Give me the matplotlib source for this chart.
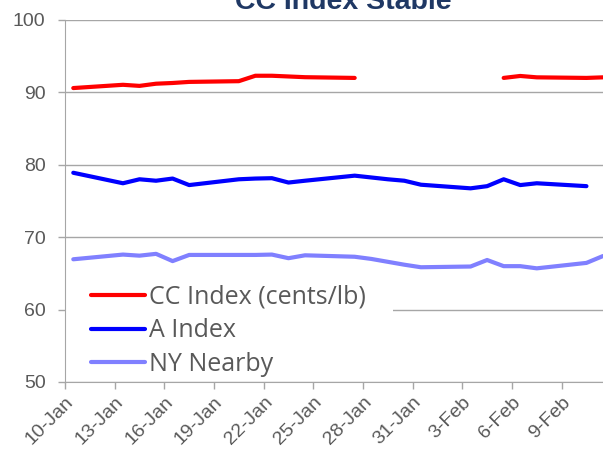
import numpy as np
import pandas as pd
import matplotlib
matplotlib.use("Agg")
import matplotlib.pyplot as plt
import matplotlib.transforms as mtrans
from matplotlib.patches import Rectangle

# trading days shown on the chart (2025)
fechas = pd.to_datetime([
    "2025-01-10", "2025-01-13", "2025-01-14", "2025-01-15", "2025-01-16", "2025-01-17",
    "2025-01-20", "2025-01-21", "2025-01-22", "2025-01-23", "2025-01-24",
    "2025-01-27", "2025-01-28", "2025-01-29", "2025-01-30", "2025-01-31",
    "2025-02-03", "2025-02-04", "2025-02-05", "2025-02-06", "2025-02-07",
    "2025-02-10", "2025-02-11",
])

nan = np.nan
cc_index = [90.6, 91.05, 90.9, 91.2, 91.3, 91.45,
            91.55, 92.3, 92.3, 92.2, 92.1,
            92.0, nan, nan, nan, nan,
            nan, nan, 92.0, 92.27, 92.08,
            92.0, 92.08]
a_index = [78.9, 77.45, 78.0, 77.8, 78.1, 77.2,
           78.0, 78.1, 78.15, 77.55, 77.8,
           78.5, 78.25, 78.0, 77.8, 77.25,
           76.75, 77.05, 78.0, 77.2, 77.45,
           77.05, nan]
ny_nearby = [66.95, 67.6, 67.45, 67.7, 66.7, 67.55,
             67.55, 67.55, 67.6, 67.1, 67.5,
             67.3, 67.0, 66.6, 66.2, 65.85,
             65.95, 66.85, 66.0, 66.0, 65.7,
             66.45, 67.4]

tick_fechas = pd.date_range("2025-01-10", "2025-02-09", freq="3D")
tick_labels = [f"{d.day}-{d.strftime('%b')}" for d in tick_fechas]

gris = "#595959"
plt.rcParams["font.family"] = ["Liberation Sans", "DejaVu Sans"]

fig = plt.figure(figsize=(6.03, 4.53), dpi=100)
ax = fig.add_axes([65 / 603, 1 - 382 / 453, 538 / 603, 362 / 453])

x = fechas + pd.Timedelta(hours=12)
ax.plot(x, cc_index, color="#FF0000", lw=3, label="CC Index (cents/lb)", solid_capstyle="round", zorder=3)
ax.plot(x, a_index, color="#0000FF", lw=3, label="A Index", solid_capstyle="round", zorder=3)
ax.plot(x, ny_nearby, color="#8080FF", lw=3, label="NY Nearby", solid_capstyle="round", zorder=3)

ax.set_ylim(50, 100)
ax.set_yticks([50, 60, 70, 80, 90, 100])
ax.set_xlim(pd.Timestamp("2025-01-10"), pd.Timestamp("2025-02-11 12:00"))
ax.set_xticks(tick_fechas)
ax.set_xticklabels(tick_labels, rotation=45, ha="right", va="top", rotation_mode="anchor")
desplaza = mtrans.ScaledTranslation(0.16, -0.10, fig.dpi_scale_trans)
for lab in ax.get_xticklabels():
    lab.set_transform(lab.get_transform() + desplaza)

ax.grid(axis="y", color="#A6A6A6", lw=1)
ax.set_axisbelow(True)
for s in ["top", "right"]:
    ax.spines[s].set_visible(False)
for s in ["left", "bottom"]:
    ax.spines[s].set_color("#A6A6A6")
ax.tick_params(colors="#A6A6A6", labelcolor=gris, labelsize=14, length=5, width=1)
ax.tick_params(axis="y", pad=9)

# white area behind the legend hides the 60 gridline
ax.add_patch(Rectangle((0, 0.17), (393 - 65) / 538, 0.1, transform=ax.transAxes,
                       facecolor="white", edgecolor="none", zorder=1.5))

leg = ax.legend(loc="upper left", bbox_to_anchor=(0.035, 0.289),
                prop={"family": "Open Sans", "size": 18},
                frameon=False, handlelength=2.16, handletextpad=0.16, labelspacing=0.34,
                borderpad=0.3, borderaxespad=0)
for t in leg.get_texts():
    t.set_color(gris)

fig.text(343 / 603, 1 - 9 / 453, "CC Index Stable", ha="center", va="baseline",
         fontsize=20.5, fontweight="bold", color="#1F3864")

fig.savefig("out.png", dpi=100)
